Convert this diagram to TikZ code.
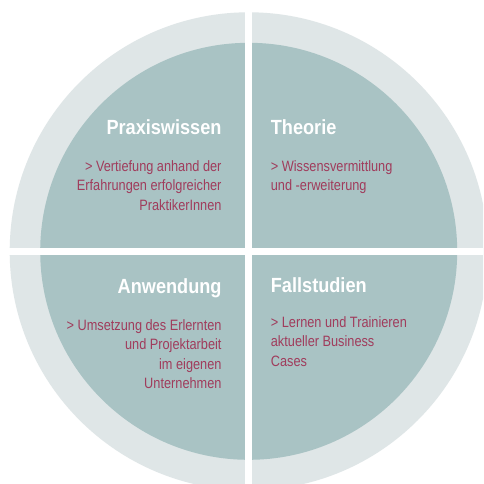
\documentclass[tikz,border=0pt]{standalone}
\usepackage{fontspec}
\setmainfont{Liberation Sans}
\newfontfamily\ttlfont[FakeStretch=0.885]{Liberation Sans Bold}
\newfontfamily\bdyfont[FakeStretch=0.85]{Liberation Sans}
\definecolor{ringc}{HTML}{DFE6E7}
\definecolor{diskc}{HTML}{A9C3C4}
\definecolor{txtc}{HTML}{A03C5C}
\tikzset{
  ttl/.style={inner sep=0pt, text=white, font=\ttlfont\fontsize{20.5}{20.5}\selectfont},
  bdy/.style={inner sep=0pt, text=txtc, font=\bdyfont\fontsize{15}{15}\selectfont},
  rgt/.style={anchor=base east},
  lft/.style={anchor=base west}
}
\begin{document}
\begin{tikzpicture}[x=1pt,y=-1pt]
\useasboundingbox (0,0) rectangle (483,484);
\begin{scope}
\clip (0,0) rectangle (483,484);
\fill[white] (0,0) rectangle (483,484);
\coordinate (c) at (248.7,251.3);
\fill[ringc] (c) circle[radius=239];
\fill[diskc] (c) circle[radius=208.5];
\fill[white] (245,0) rectangle (252.3,484);
\fill[white] (0,247.7) rectangle (483,255);
\end{scope}
% top left
\node[ttl,rgt] (t1) at (221.7,134.5) {Praxiswissen};
\node[bdy,rgt] (b11) at (221.7,171) {> Vertiefung anhand der};
\node[bdy,rgt] (b12) at (221.7,190.5) {Erfahrungen erfolgreicher};
\node[bdy,rgt] (b13) at (221.7,210) {PraktikerInnen};
% top right
\node[ttl,lft] (t2) at (270.7,134.5) {Theorie};
\node[bdy,lft] (b21) at (270.7,171) {> Wissensvermittlung};
\node[bdy,lft] (b22) at (270.7,190.5) {und -erweiterung};
% bottom left
\node[ttl,rgt] (t3) at (221.7,293) {Anwendung};
\node[bdy,rgt] (b31) at (221.7,330) {> Umsetzung des Erlernten};
\node[bdy,rgt] (b32) at (221.7,349.5) {und Projektarbeit};
\node[bdy,rgt] (b33) at (221.7,369) {im eigenen};
\node[bdy,rgt] (b34) at (221.7,388.5) {Unternehmen};
% bottom right
\node[ttl,lft] (t4) at (270.7,292.5) {Fallstudien};
\node[bdy,lft] (b41) at (270.7,327) {> Lernen und Trainieren};
\node[bdy,lft] (b42) at (270.7,346.5) {aktueller Business};
\node[bdy,lft] (b43) at (270.7,366) {Cases};
\end{tikzpicture}
\end{document}
